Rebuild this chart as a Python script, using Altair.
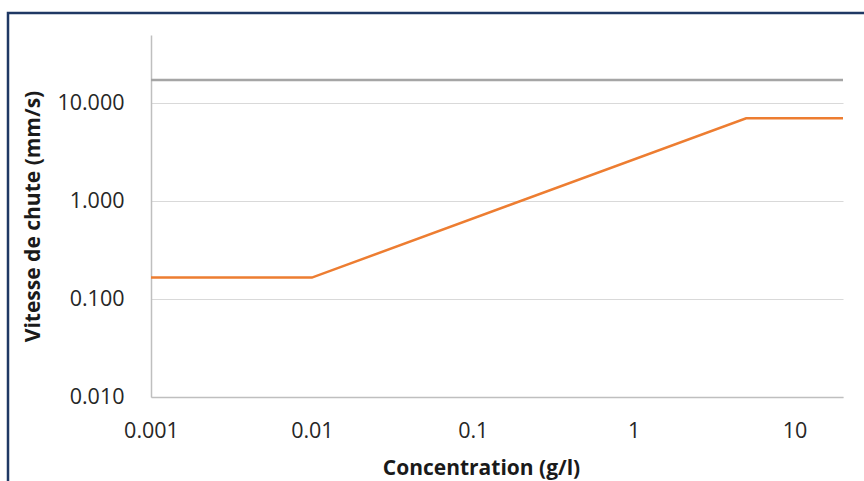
import altair as alt
import pandas as pd

# Orange series: settling velocity vs concentration
conc_orange = [0.001, 0.01, 5, 20]
vit_orange = [0.166, 0.166, 7.05, 7.05]
# Grey series: constant level
conc_grey = [0.001, 20]
vit_grey = [17.3, 17.3]

x_ticks = [0.001, 0.01, 0.1, 1, 10]
y_ticks = [0.01, 0.1, 1, 10]

df = pd.DataFrame({
    "conc": conc_orange + conc_grey,
    "vit": vit_orange + vit_grey,
    "serie": ["orange"] * len(conc_orange) + ["gris"] * len(conc_grey),
})

FONT = "Open Sans"
W, H = 692, 362

lines = alt.Chart(df).mark_line(strokeWidth=2.5).encode(
    x=alt.X("conc:Q",
            scale=alt.Scale(type="log", domain=[0.001, 20], nice=False),
            axis=alt.Axis(values=x_ticks, format="~g", grid=False,
                          title="Concentration (g/l)",
                          titleX=330, titleY=77, titleBaseline="alphabetic",
                          titleAlign="center",
                          labelFlush=False, labelOverlap=False,
                          labelPadding=23)),
    y=alt.Y("vit:Q",
            scale=alt.Scale(type="log", domain=[0.01, 50], nice=False),
            axis=alt.Axis(values=y_ticks, format=".3f", grid=True,
                          title="Vitesse de chute (mm/s)",
                          titleX=-118, titleY=H / 2, titleAngle=-90,
                          titleAlign="center", titleBaseline="middle",
                          labelFlush=False, labelOverlap=False,
                          labelPadding=27)),
    color=alt.Color("serie:N",
                    scale=alt.Scale(domain=["orange", "gris"],
                                    range=["#ED7D31", "#A5A5A5"]),
                    legend=None),
    detail="serie:N",
)

frame = alt.Chart(alt.Data(values=[{"a": 1}])).mark_rect(
    fill="transparent", stroke="#1F3864", strokeWidth=2.5, clip=False
).encode(
    x=alt.value(-143), x2=alt.value(W + 200),
    y=alt.value(-22), y2=alt.value(H + 200),
)

chart = alt.layer(frame, lines).properties(
    width=W, height=H,
    autosize=alt.AutoSizeParams(type="none"),
    padding={"left": 151, "top": 35, "right": 21, "bottom": 84},
    background="white",
).configure_view(
    stroke="transparent"
).configure_axis(
    labelFont=FONT, labelFontSize=21.5, labelColor="#262626",
    titleFont=FONT, titleFontSize=21, titleFontWeight="bold", titleColor="#1a1a1a",
    domainColor="#BFBFBF", domainWidth=1.5,
    gridColor="#D9D9D9", gridWidth=1.2,
    ticks=False,
)

chart.save("out.html", embed_options={"renderer": "svg", "actions": False})
